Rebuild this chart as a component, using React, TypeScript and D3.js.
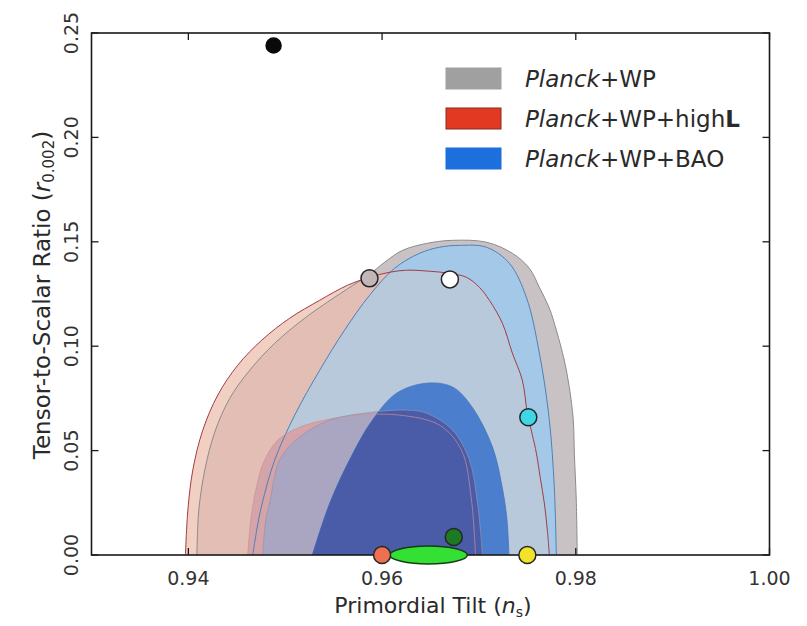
import React from "react";
import * as d3 from "d3";

type P = [number, number];

const X_DOMAIN: [number, number] = [0.93, 1.0];
const Y_DOMAIN: [number, number] = [0, 0.25];
const xTickValues = [0.94, 0.96, 0.98, 1.0];
const xTickLabels = ["0.94", "0.96", "0.98", "1.00"];
const yTickValues = [0, 0.05, 0.1, 0.15, 0.2, 0.25];
const yTickLabels = ["0.00", "0.05", "0.10", "0.15", "0.20", "0.25"];

// Planck+WP+highL 95%
const red95: P[] = [
  [0.9397, 0], [0.93995, 0.0215], [0.94046, 0.0407], [0.94149, 0.0598], [0.94304, 0.0766],
  [0.9451, 0.0909], [0.94758, 0.1029], [0.95046, 0.1134], [0.95356, 0.122], [0.95644, 0.1292],
  [0.95871, 0.133], [0.96077, 0.1354], [0.96253, 0.1364], [0.9649, 0.1359], [0.96696, 0.1349],
  [0.96871, 0.133], [0.97005, 0.1282], [0.97108, 0.122], [0.97242, 0.111], [0.97345, 0.0967],
  [0.97448, 0.0837], [0.975, 0.0679], [0.97552, 0.0574], [0.97593, 0.0488], [0.97634, 0.0368],
  [0.97675, 0.0249], [0.97706, 0.012], [0.97727, 0],
];
// Planck+WP 95%
const gray95: P[] = [
  [0.94088, 0], [0.94108, 0.0215], [0.9417, 0.0407], [0.94273, 0.0589], [0.94428, 0.0751],
  [0.94634, 0.0885], [0.94892, 0.1014], [0.95201, 0.1134], [0.9551, 0.1234], [0.95747, 0.1306],
  [0.95871, 0.1344], [0.96026, 0.1402], [0.96211, 0.1459], [0.96469, 0.1493], [0.96727, 0.1507],
  [0.97077, 0.1498], [0.97345, 0.1445], [0.97521, 0.1373], [0.97624, 0.1282], [0.97727, 0.1182],
  [0.97799, 0.1077], [0.97881, 0.0933], [0.97933, 0.0804], [0.97974, 0.0646], [0.97985, 0.0488],
  [0.98005, 0.0263], [0.98015, 0],
];
// Planck+WP+BAO 95%
const blue95: P[] = [
  [0.94665, 0], [0.94706, 0.012], [0.94758, 0.0239], [0.94892, 0.0455], [0.95098, 0.067],
  [0.95356, 0.0885], [0.95613, 0.1077], [0.95871, 0.1244], [0.96129, 0.1373], [0.96387, 0.1445],
  [0.96593, 0.1474], [0.96799, 0.1483], [0.97077, 0.1474], [0.97314, 0.1397], [0.9749, 0.1234],
  [0.97624, 0.0967], [0.97727, 0.0646], [0.97778, 0.0325], [0.97799, 0],
];
// Planck+WP+highL 68%
const red68: P[] = [
  [0.94613, 0], [0.94644, 0.0167], [0.94696, 0.0311], [0.94778, 0.0445], [0.94923, 0.055],
  [0.95129, 0.0608], [0.95407, 0.0646], [0.95768, 0.067], [0.9618, 0.067], [0.96593, 0.0622],
  [0.9682, 0.0502], [0.96923, 0.0263], [0.96964, 0],
];
// Planck+WP 68%
const gray68: P[] = [
  [0.94768, 0], [0.94799, 0.0167], [0.9484, 0.0249], [0.94943, 0.0455], [0.95149, 0.0565],
  [0.95459, 0.0646], [0.95902, 0.0684], [0.96253, 0.0694], [0.96459, 0.0679], [0.96727, 0.0598],
  [0.96902, 0.0455], [0.96985, 0.0249], [0.97015, 0.012], [0.97036, 0],
];
// Planck+WP+BAO 68%
const blue68: P[] = [
  [0.9528, 0], [0.9546, 0.0249], [0.957, 0.0488], [0.959, 0.0646], [0.9615, 0.0775],
  [0.9646, 0.0823], [0.9673, 0.0804], [0.9693, 0.0708], [0.9714, 0.0517], [0.9724, 0.0325],
  [0.9729, 0.0167], [0.9731, 0],
];

// model points [ns, r]
const pointNames = ["black", "gray", "white", "cyan", "orange", "yellow", "darkgreen"];
const pointNs = [0.9488, 0.9587, 0.967, 0.9751, 0.96, 0.975, 0.9674];
const pointR = [0.244, 0.1325, 0.132, 0.066, 0, 0, 0.0086];
const pointFill = ["#0a0a0a", "#c2b6b8", "#ffffff", "#3fd6e6", "#ee7050", "#f2e22a", "#1c7a22"];

// green ellipse (ns range, r half-height)
const ellipseNs: [number, number] = [0.9608, 0.9688];
const ellipseRHalf = 0.0043;

const legendLabels = ["+WP", "+WP+high", "+WP+BAO"];
const legendBold = ["", "L", ""];
const legendColors = ["#a0a0a0", "#e23a22", "#1c6fdc"];
const legendStroke = ["#a0a0a0", "#8a2a1a", "#1c6fdc"];

const W = 807;
const H = 626;

export default function App() {
  const x = d3.scaleLinear().domain(X_DOMAIN).range([91.5, 769.5]);
  const y = d3.scaleLinear().domain(Y_DOMAIN).range([555, 33]);
  const line = d3
    .line<P>()
    .x((d) => x(d[0]))
    .y((d) => y(d[1]))
    .curve(d3.curveCatmullRom.alpha(0.5));
  const cp = (pts: P[]) => (line(pts) || "") + "Z";

  const x0 = x(X_DOMAIN[0]);
  const x1 = x(X_DOMAIN[1]);
  const y0 = y(Y_DOMAIN[0]);
  const y1 = y(Y_DOMAIN[1]);
  const tickLen = 7;
  const font = "'DejaVu Sans', sans-serif";
  const txt = "#333";

  return (
    <svg
      width={W}
      height={H}
      style={{ position: "absolute", left: 0, top: 0, background: "#fff" }}
    >
      <defs>
        <clipPath id="cGray95"><path d={cp(gray95)} /></clipPath>
        <clipPath id="cBlue95"><path d={cp(blue95)} /></clipPath>
        <clipPath id="cBlue68"><path d={cp(blue68)} /></clipPath>
      </defs>
      <rect x={0} y={0} width={W} height={H} fill="#fff" />

      {/* 95% regions */}
      <path d={cp(red95)} fill="#f1cfc3" />
      <path d={cp(gray95)} fill="#c9c2c5" />
      <path d={cp(red95)} fill="#e3beb5" clipPath="url(#cGray95)" />
      <path d={cp(blue95)} fill="#a4c9e8" />
      <path d={cp(red95)} fill="#b7c9da" clipPath="url(#cBlue95)" />

      {/* 68% regions */}
      <path d={cp(red68)} fill="#d4a4a8" />
      <path d={cp(gray68)} fill="#aaa6c2" />
      <path d={cp(blue68)} fill="#4b7fcd" />
      <path d={cp(gray68)} fill="#4a5ba7" clipPath="url(#cBlue68)" />

      {/* outlines */}
      <path d={line(gray95) || ""} fill="none" stroke="#8f8a8c" strokeWidth={1} />
      <path d={line(blue95) || ""} fill="none" stroke="#4d80b8" strokeWidth={1} />
      <path d={line(red95) || ""} fill="none" stroke="#a23c44" strokeWidth={1} />
      <path d={line(red68) || ""} fill="none" stroke="#c89098" strokeWidth={0.7} />
      <path d={line(gray68) || ""} fill="none" stroke="#9390ad" strokeWidth={0.7} />
      <path d={line(blue68) || ""} fill="none" stroke="#3f6cb8" strokeWidth={0.7} />

      {/* frame */}
      <rect x={x0} y={y1} width={x1 - x0} height={y0 - y1} fill="none" stroke="#1a1a1a" strokeWidth={1.6} />
      {xTickValues.map((v, i) => (
        <g key={"xt" + i}>
          <line x1={x(v)} x2={x(v)} y1={y0} y2={y0 - tickLen} stroke="#1a1a1a" strokeWidth={1.3} />
          <line x1={x(v)} x2={x(v)} y1={y1} y2={y1 + tickLen} stroke="#1a1a1a" strokeWidth={1.3} />
          <text x={x(v)} y={585} textAnchor="middle" fontFamily={font} fontSize={19} fill={txt}>
            {xTickLabels[i]}
          </text>
        </g>
      ))}
      {yTickValues.map((v, i) => (
        <g key={"yt" + i}>
          <line x1={x0} x2={x0 + tickLen} y1={y(v)} y2={y(v)} stroke="#1a1a1a" strokeWidth={1.3} />
          <line x1={x1} x2={x1 - tickLen} y1={y(v)} y2={y(v)} stroke="#1a1a1a" strokeWidth={1.3} />
          <text
            transform={`translate(78,${y(v)}) rotate(-90)`}
            textAnchor="middle"
            fontFamily={font}
            fontSize={19}
            fill={txt}
          >
            {yTickLabels[i]}
          </text>
        </g>
      ))}

      {/* model points */}
      <ellipse
        cx={x((ellipseNs[0] + ellipseNs[1]) / 2)}
        cy={y(0)}
        rx={(x(ellipseNs[1]) - x(ellipseNs[0])) / 2}
        ry={y(0) - y(ellipseRHalf)}
        fill="#34e034"
        stroke="#173d17"
        strokeWidth={1.5}
      />
      {pointNames.map((n, i) => (
        <circle
          key={n}
          cx={x(pointNs[i])}
          cy={y(pointR[i])}
          r={n === "black" ? 7.5 : 8.5}
          fill={pointFill[i]}
          stroke={n === "black" ? "#0a0a0a" : "#262626"}
          strokeWidth={1.5}
        />
      ))}

      {/* legend */}
      {legendLabels.map((lab, i) => (
        <g key={"lg" + i} transform={`translate(0,${i * 40})`}>
          <rect x={446} y={68} width={55} height={21} fill={legendColors[i]} stroke={legendStroke[i]} strokeWidth={1} />
          <text x={525} y={87} fontFamily={font} fontSize={23} fill="#2a2a2a">
            <tspan fontStyle="italic">Planck</tspan>
            <tspan>{lab}</tspan>
            {legendBold[i] ? <tspan fontWeight="bold">{legendBold[i]}</tspan> : null}
          </text>
        </g>
      ))}

      {/* axis labels */}
      <text x={433} y={613} textAnchor="middle" fontFamily={font} fontSize={22} fill="#2a2a2a">
        Primordial Tilt (<tspan fontStyle="italic">n</tspan>
        <tspan fontSize={14} dy={4}>s</tspan>
        <tspan dy={-4}>)</tspan>
      </text>
      <text
        transform={`translate(50,295) rotate(-90)`}
        textAnchor="middle"
        fontFamily={font}
        fontSize={23}
        fill="#2a2a2a"
      >
        Tensor-to-Scalar Ratio (<tspan fontStyle="italic">r</tspan>
        <tspan fontSize={15} dy={4}>0.002</tspan>
        <tspan dy={-4}>)</tspan>
      </text>
    </svg>
  );
}
